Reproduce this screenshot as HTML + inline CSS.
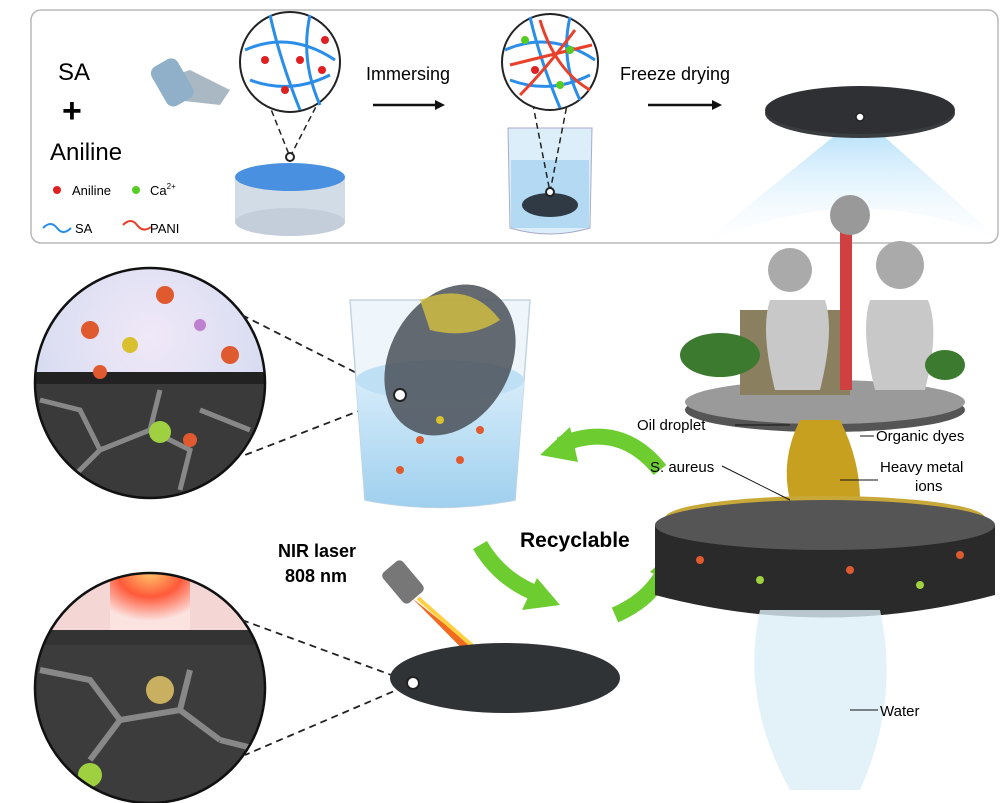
<!DOCTYPE html>
<html><head><meta charset="utf-8"><style>
html,body{margin:0;padding:0;background:#fff;}
svg{display:block;font-family:"Liberation Sans",Arial,sans-serif;}
</style></head><body>
<svg width="1000" height="803" viewBox="0 0 1000 803" xmlns="http://www.w3.org/2000/svg">
<defs>
<radialGradient id="c1" cx="50%" cy="30%" r="70%"><stop offset="0" stop-color="#f0e8f8"/><stop offset="1" stop-color="#cfd8ef"/></radialGradient>
<radialGradient id="laser" cx="50%" cy="0%" r="80%"><stop offset="0" stop-color="#ffc36a"/><stop offset=".5" stop-color="#ff5a3a"/><stop offset="1" stop-color="#fbe3e0"/></radialGradient>
<linearGradient id="water" x1="0" y1="0" x2="0" y2="1"><stop offset="0" stop-color="#d6ecfa"/><stop offset="1" stop-color="#9fd0ee"/></linearGradient>
<linearGradient id="blueFan" x1="0" y1="0" x2="0" y2="1"><stop offset="0" stop-color="#8fd0f5"/><stop offset="1" stop-color="#e8f6ff" stop-opacity="0"/></linearGradient>
<clipPath id="cp1"><circle cx="150" cy="383" r="115"/></clipPath>
<clipPath id="cp2"><circle cx="150" cy="688" r="115"/></clipPath>
</defs>
<rect x="31" y="10" width="967" height="233" rx="10" fill="#fff" stroke="#b8b8b8" stroke-width="1.5"/>
<path d="M860 115 L700 245 Q860 175 1000 240 Z" fill="url(#blueFan)" opacity=".8"/>
<text x="58" y="80" font-size="24">SA</text>
<text x="62" y="122" font-size="34" font-weight="bold">+</text>
<text x="50" y="160" font-size="24">Aniline</text>
<circle cx="57" cy="190" r="4" fill="#e02020"/><text x="72" y="195" font-size="13">Aniline</text>
<circle cx="136" cy="190" r="4" fill="#55cc22"/><text x="150" y="195" font-size="13">Ca<tspan font-size="8" dy="-6">2+</tspan></text>
<path d="M43 228 q8-8 14 0 t14 0" fill="none" stroke="#2a8ee8" stroke-width="2"/><text x="75" y="233" font-size="13">SA</text>
<path d="M123 225 q8-8 14 0 t14 2" fill="none" stroke="#e8402a" stroke-width="2"/><text x="150" y="233" font-size="13">PANI</text>
<path d="M160 80 l30 -10 l40 20 l-10 15 l-45 -5 z" fill="#aab8c4"/>
<rect x="157" y="60" width="30" height="45" rx="8" fill="#8fb0c8" transform="rotate(-30 172 82)"/>
<rect x="235" y="177" width="110" height="45" fill="#d2dce6"/>
<ellipse cx="290" cy="222" rx="55" ry="14" fill="#c4ceda"/>
<ellipse cx="290" cy="177" rx="55" ry="14" fill="#4a90e0"/>
<path d="M253 64 L290 157 L338 64" fill="none" stroke="#222" stroke-dasharray="6 4" stroke-width="1.5"/>
<circle cx="290" cy="157" r="4" fill="#fff" stroke="#222" stroke-width="2"/>
<circle cx="290" cy="62" r="50" fill="#fff" stroke="#222" stroke-width="2"/>
<path d="M245 50 Q290 30 335 60 M250 80 Q290 95 330 75 M270 15 Q280 60 300 110 M310 15 Q300 60 320 105" fill="none" stroke="#2a8ee8" stroke-width="3"/>
<circle cx="265" cy="60" r="4" fill="#e02020"/><circle cx="300" cy="60" r="4" fill="#e02020"/><circle cx="325" cy="40" r="4" fill="#e02020"/><circle cx="285" cy="90" r="4" fill="#e02020"/><circle cx="322" cy="70" r="4" fill="#e02020"/>
<text x="366" y="80" font-size="18">Immersing</text>
<path d="M373 105 H440" stroke="#111" stroke-width="2.5"/><path d="M445 105 l-10 -5 v10 z" fill="#111"/>
<path d="M508 128 L510 228 Q550 240 590 228 L592 128 Z" fill="#dbeefa" stroke="#aac" stroke-width="1"/>
<rect x="511" y="160" width="78" height="68" fill="#a9d4f0" opacity=".8"/>
<ellipse cx="550" cy="205" rx="28" ry="12" fill="#2f3a45"/>
<path d="M525 64 L550 192 L575 64" fill="none" stroke="#222" stroke-dasharray="6 4" stroke-width="1.5"/>
<circle cx="550" cy="192" r="4" fill="#fff" stroke="#222" stroke-width="2"/>
<circle cx="550" cy="62" r="48" fill="#fff" stroke="#222" stroke-width="2"/>
<path d="M505 50 Q550 30 595 60 M510 80 Q550 95 590 75 M530 17 Q540 60 560 108 M570 17 Q560 60 580 100" fill="none" stroke="#2a8ee8" stroke-width="3"/>
<path d="M510 65 Q550 55 592 45 M520 95 Q545 70 575 30 M540 20 Q555 70 590 90" fill="none" stroke="#e8402a" stroke-width="3"/>
<circle cx="525" cy="40" r="4" fill="#55cc22"/><circle cx="570" cy="50" r="4" fill="#55cc22"/><circle cx="560" cy="85" r="4" fill="#55cc22"/><circle cx="535" cy="70" r="4" fill="#e02020"/>
<text x="620" y="80" font-size="18">Freeze drying</text>
<path d="M648 105 H715" stroke="#111" stroke-width="2.5"/><path d="M722 105 l-10 -5 v10 z" fill="#111"/>
<ellipse cx="860" cy="113" rx="95" ry="25" fill="#3a3d40"/><ellipse cx="860" cy="110" rx="95" ry="24" fill="#2e3033"/>
<circle cx="860" cy="117" r="4" fill="#fff" stroke="#222" stroke-width="1.5"/>
<g clip-path="url(#cp1)">
<rect x="35" y="268" width="230" height="230" fill="url(#c1)"/>
<rect x="35" y="372" width="230" height="12" fill="#222"/>
<rect x="35" y="384" width="230" height="120" fill="#3a3a3a"/>
<path d="M40 400 l40 10 l20 40 l-30 30 M100 450 l50 -20 l40 20 l-10 40 M150 430 l10 -40 M200 410 l50 20 M60 470 l-10 30" fill="none" stroke="#888" stroke-width="5"/>
<circle cx="160" cy="432" r="11" fill="#9fd040"/><circle cx="65" cy="478" r="9" fill="#9fd040"/><circle cx="255" cy="460" r="8" fill="#9fd040"/>
<circle cx="90" cy="330" r="9" fill="#e05a30"/><circle cx="165" cy="295" r="9" fill="#e05a30"/><circle cx="230" cy="355" r="9" fill="#e05a30"/><circle cx="100" cy="372" r="7" fill="#e05a30"/><circle cx="190" cy="440" r="7" fill="#e05a30"/>
<circle cx="130" cy="345" r="8" fill="#d8c030"/><circle cx="240" cy="300" r="8" fill="#d8c030"/><circle cx="200" cy="325" r="6" fill="#c080d0"/>
</g>
<circle cx="150" cy="383" r="115" fill="none" stroke="#111" stroke-width="2.5"/>
<path d="M242 315 L400 395 L245 455" fill="none" stroke="#222" stroke-dasharray="7 5" stroke-width="1.8"/>
<g clip-path="url(#cp2)">
<rect x="35" y="573" width="230" height="60" fill="#f4d6d4"/>
<rect x="110" y="573" width="80" height="60" fill="url(#laser)"/>
<rect x="35" y="630" width="230" height="15" fill="#333"/>
<rect x="35" y="645" width="230" height="160" fill="#3c3c3c"/>
<path d="M40 670 l50 10 l30 40 l-30 40 M120 720 l60 -10 l40 30 M180 710 l10 -40 M220 740 l40 10 M70 770 l-20 30" fill="none" stroke="#888" stroke-width="6"/>
<circle cx="160" cy="690" r="14" fill="#c8b060"/><circle cx="90" cy="775" r="12" fill="#9fd040"/>
</g>
<circle cx="150" cy="688" r="115" fill="none" stroke="#111" stroke-width="2.5"/>
<path d="M242 620 L413 683 L245 755" fill="none" stroke="#222" stroke-dasharray="7 5" stroke-width="1.8"/>
<path d="M350 300 L365 500 Q440 515 515 500 L530 300 Z" fill="#eef6fc" stroke="#c4d4e0" stroke-width="1.5"/>
<path d="M356 380 L365 500 Q440 515 515 500 L524 380 Z" fill="url(#water)"/>
<ellipse cx="440" cy="380" rx="84" ry="20" fill="#bfe0f4"/>
<ellipse cx="450" cy="360" rx="60" ry="80" fill="#4a5058" opacity=".85" transform="rotate(30 450 360)"/>
<path d="M420 300 Q470 280 500 320 Q470 340 430 330 Z" fill="#d4c040" opacity=".8"/>
<circle cx="400" cy="395" r="6" fill="#fff" stroke="#222" stroke-width="2"/>
<circle cx="420" cy="440" r="4" fill="#e05a30"/><circle cx="460" cy="460" r="4" fill="#e05a30"/><circle cx="400" cy="470" r="4" fill="#e05a30"/><circle cx="480" cy="430" r="4" fill="#e05a30"/><circle cx="440" cy="420" r="4" fill="#d8c030"/>
<text x="278" y="557" font-size="18" font-weight="bold">NIR laser</text>
<text x="285" y="582" font-size="18" font-weight="bold">808 nm</text>
<rect x="390" y="562" width="26" height="40" rx="5" fill="#777" transform="rotate(-40 403 582)"/>
<path d="M412 598 L525 688 L505 692 Z" fill="#f06a20"/>
<path d="M418 598 L518 686" stroke="#ffd040" stroke-width="4"/>
<ellipse cx="505" cy="678" rx="115" ry="35" fill="#303336"/>
<circle cx="413" cy="683" r="6" fill="#fff" stroke="#222" stroke-width="2"/>
<path d="M660 470 Q620 420 560 445" fill="none" stroke="#6ccc30" stroke-width="16"/><path d="M540 455 l30 -28 l8 35 z" fill="#6ccc30"/>
<path d="M480 545 Q500 580 540 595" fill="none" stroke="#6ccc30" stroke-width="16"/><path d="M560 605 l-38 5 l15 -32 z" fill="#6ccc30"/>
<path d="M615 615 Q650 600 665 570" fill="none" stroke="#6ccc30" stroke-width="16"/><path d="M675 548 l5 38 l-30 -14 z" fill="#6ccc30"/>
<text x="520" y="547" font-size="21" font-weight="bold">Recyclable</text>
<ellipse cx="825" cy="410" rx="140" ry="22" fill="#555"/><ellipse cx="825" cy="402" rx="140" ry="22" fill="#9a9a9a"/>
<rect x="740" y="310" width="110" height="85" fill="#8a8060"/>
<path d="M770 300 Q760 330 775 390 L820 390 Q835 330 825 300 Z" fill="#c8c8c8"/>
<path d="M870 300 Q860 330 875 390 L925 390 Q940 330 928 300 Z" fill="#c8c8c8"/>
<rect x="840" y="230" width="12" height="160" fill="#d04040"/>
<circle cx="790" cy="270" r="22" fill="#aaa"/><circle cx="850" cy="215" r="20" fill="#999"/><circle cx="900" cy="265" r="24" fill="#aaa"/>
<ellipse cx="720" cy="355" rx="40" ry="22" fill="#3c7a30"/><ellipse cx="945" cy="365" rx="20" ry="15" fill="#3c7a30"/>
<path d="M800 420 Q780 460 790 500 L860 500 Q860 460 840 420 Z" fill="#c8a020"/>
<ellipse cx="825" cy="518" rx="160" ry="22" fill="#c8a838"/>
<path d="M655 525 L655 595 Q825 640 995 595 L995 525 Z" fill="#2a2a2a"/>
<ellipse cx="825" cy="525" rx="170" ry="25" fill="#555"/>
<circle cx="700" cy="560" r="4" fill="#e05a30"/><circle cx="760" cy="580" r="4" fill="#9fd040"/><circle cx="850" cy="570" r="4" fill="#e05a30"/><circle cx="920" cy="585" r="4" fill="#9fd040"/><circle cx="960" cy="555" r="4" fill="#e05a30"/>
<path d="M760 610 Q740 700 790 790 L860 790 Q900 700 880 610 Z" fill="#dcedf8" opacity=".8"/>
<text x="637" y="430" font-size="15">Oil droplet</text><path d="M735 425 H790" stroke="#111"/>
<text x="876" y="441" font-size="15">Organic dyes</text><path d="M860 436 H874" stroke="#111"/>
<text x="650" y="472" font-size="15">S. aureus</text><path d="M722 466 L790 500" stroke="#111"/>
<text x="880" y="472" font-size="15">Heavy metal</text><text x="915" y="491" font-size="15">ions</text><path d="M840 480 H878" stroke="#111"/>
<text x="880" y="716" font-size="15">Water</text><path d="M850 710 H878" stroke="#111"/>
</svg>
</body></html>
